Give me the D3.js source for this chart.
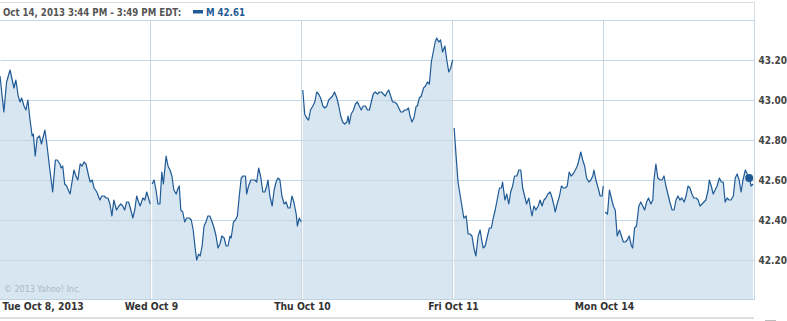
<!DOCTYPE html>
<html>
<head>
<meta charset="utf-8">
<title>M intraday, Oct 8 - Oct 14, 2013</title>
<script src="https://cdn.jsdelivr.net/npm/d3@7"></script>
<style>
  body { margin: 0; background: #fff; }
  text { font-family: "DejaVu Sans Condensed", "DejaVu Sans", sans-serif; font-weight: bold; font-stretch: condensed; }
</style>
</head>
<body>
<script>
// tick labels
var dayLabels = ["Tue Oct 8, 2013", "Wed Oct 9", "Thu Oct 10", "Fri Oct 11", "Mon Oct 14"];
var yTicks = [42.2, 42.4, 42.6, 42.8, 43.0, 43.2];

// [minutes after 9:30 open, price], one array per session
var day1 = [[0,43.12],[10,42.94],[17,43.09],[26,43.15],[36,43.06],[41,43.10],[47,43.02],[52,42.99],[56,43.01],[62,42.97],[67,42.95],[72,43.00],[77,42.91],[83,42.82],[86,42.83],[91,42.72],[96,42.81],[102,42.82],[107,42.78],[116,42.85],[121,42.78],[127,42.68],[136,42.54],[143,42.70],[148,42.70],[155,42.68],[158,42.66],[162,42.67],[167,42.58],[172,42.57],[181,42.53],[191,42.65],[196,42.62],[201,42.60],[207,42.68],[212,42.67],[217,42.69],[222,42.68],[229,42.62],[233,42.59],[238,42.60],[243,42.56],[250,42.54],[258,42.50],[263,42.52],[269,42.52],[274,42.51],[279,42.51],[284,42.48],[289,42.42],[294,42.50],[301,42.45],[307,42.47],[312,42.48],[317,42.47],[322,42.45],[327,42.49],[332,42.49],[338,42.45],[343,42.41],[348,42.45],[353,42.52],[358,42.49],[362,42.47],[369,42.51],[374,42.50],[379,42.54],[382,42.52],[388,42.48]];
var day2 = [[3,42.58],[8,42.60],[13,42.55],[18,42.48],[23,42.48],[28,42.64],[32,42.58],[39,42.72],[44,42.67],[49,42.65],[54,42.62],[59,42.55],[65,42.53],[70,42.56],[73,42.57],[77,42.45],[82,42.44],[87,42.39],[92,42.41],[99,42.41],[104,42.40],[109,42.35],[114,42.26],[118,42.20],[123,42.23],[127,42.22],[132,42.27],[137,42.37],[142,42.39],[147,42.42],[152,42.42],[158,42.39],[163,42.36],[168,42.32],[173,42.26],[178,42.28],[183,42.32],[189,42.31],[194,42.27],[199,42.27],[204,42.32],[207,42.31],[213,42.39],[218,42.40],[223,42.42],[228,42.52],[233,42.61],[238,42.62],[244,42.62],[247,42.53],[252,42.57],[258,42.60],[263,42.60],[268,42.60],[273,42.59],[278,42.66],[283,42.62],[289,42.54],[294,42.54],[299,42.57],[302,42.60],[307,42.52],[313,42.47],[318,42.55],[323,42.59],[328,42.61],[333,42.60],[338,42.52],[344,42.48],[349,42.49],[354,42.46],[359,42.46],[364,42.52],[369,42.49],[375,42.43],[378,42.37],[383,42.41],[388,42.39]];
var day3 = [[2,43.05],[7,42.93],[12,42.91],[17,42.90],[22,42.95],[28,42.97],[33,42.99],[38,43.04],[43,43.03],[48,43.01],[54,42.97],[59,42.96],[64,42.97],[69,43.00],[74,43.01],[79,43.02],[84,43.04],[90,43.01],[95,42.97],[100,42.92],[105,42.89],[110,42.88],[116,42.89],[119,42.92],[122,42.88],[127,42.93],[133,42.95],[138,42.98],[143,42.99],[148,42.97],[153,42.95],[158,42.97],[164,42.97],[169,42.95],[174,42.95],[179,42.99],[184,43.03],[189,43.04],[195,43.03],[200,43.04],[205,43.04],[210,43.03],[215,43.02],[220,43.04],[224,43.05],[229,43.02],[234,42.99],[239,42.99],[245,42.98],[250,42.96],[255,42.94],[260,42.94],[265,42.95],[270,42.95],[275,42.96],[279,42.92],[284,42.89],[289,42.91],[295,42.97],[298,42.97],[303,43.01],[308,43.02],[314,43.06],[319,43.07],[324,43.09],[329,43.08],[334,43.19],[339,43.24],[344,43.29],[348,43.31],[353,43.29],[358,43.30],[363,43.24],[369,43.27],[374,43.20],[379,43.14],[384,43.16],[389,43.20]];
var day4 = [[3,42.86],[8,42.72],[13,42.59],[18,42.53],[23,42.47],[28,42.41],[34,42.42],[39,42.33],[44,42.33],[49,42.32],[54,42.26],[59,42.22],[65,42.32],[70,42.35],[75,42.29],[78,42.26],[83,42.27],[89,42.32],[94,42.36],[99,42.36],[104,42.41],[109,42.45],[114,42.50],[120,42.56],[125,42.56],[128,42.59],[134,42.50],[139,42.53],[144,42.48],[149,42.54],[154,42.57],[159,42.62],[165,42.62],[170,42.65],[175,42.65],[180,42.56],[185,42.52],[190,42.48],[196,42.51],[201,42.45],[204,42.42],[209,42.47],[214,42.45],[220,42.47],[225,42.50],[230,42.47],[235,42.50],[240,42.51],[245,42.53],[251,42.54],[256,42.51],[261,42.47],[264,42.44],[269,42.48],[275,42.52],[280,42.57],[285,42.56],[290,42.56],[295,42.57],[300,42.64],[305,42.62],[310,42.63],[316,42.65],[321,42.67],[324,42.69],[330,42.74],[335,42.70],[340,42.67],[345,42.61],[351,42.59],[356,42.60],[361,42.62],[364,42.65],[369,42.60],[375,42.56],[380,42.52],[385,42.52],[388,42.57]];
var day5 = [[3,42.44],[9,42.43],[14,42.55],[19,42.51],[24,42.47],[29,42.45],[34,42.32],[40,42.35],[45,42.32],[50,42.29],[55,42.29],[60,42.30],[65,42.32],[71,42.27],[74,42.26],[79,42.36],[84,42.37],[90,42.47],[95,42.49],[100,42.47],[105,42.45],[110,42.49],[115,42.51],[121,42.48],[126,42.50],[129,42.60],[134,42.68],[139,42.61],[145,42.60],[150,42.60],[155,42.62],[160,42.57],[165,42.53],[170,42.49],[176,42.45],[181,42.45],[186,42.50],[191,42.52],[196,42.50],[201,42.51],[207,42.49],[212,42.52],[217,42.57],[222,42.56],[227,42.53],[232,42.51],[238,42.51],[243,42.50],[248,42.47],[253,42.48],[258,42.49],[263,42.50],[269,42.55],[272,42.60],[277,42.57],[282,42.53],[287,42.55],[292,42.57],[298,42.61],[303,42.59],[308,42.59],[313,42.49],[318,42.51],[323,42.50],[328,42.50],[334,42.52],[339,42.61],[344,42.63],[349,42.60],[354,42.54],[359,42.60],[365,42.65],[370,42.63],[375,42.61],[380,42.57],[385,42.58]];
var days = [day1, day2, day3, day4, day5];
var lastQuote = [375, 42.61]; // Oct 14 3:44 PM bar

var W = 787, H = 321;
var plotW = 755, plotTop = 20, plotBottom = 300;
var sessionLen = 390;

var svg = d3.select("body").append("svg").attr("width", W).attr("height", H);

var x = d3.scaleLinear().domain([0, sessionLen * 5]).range([0, plotW]);
var y = d3.scaleLinear().domain([42.0, 43.4]).range([plotBottom, plotTop]);

function px(d, i) { return x(i * sessionLen + d[0]); }

// fill, one area per session
var area = d3.area().y0(plotBottom).y1(function(d) { return y(d[1]); });
svg.append("g").selectAll("path").data(days).enter().append("path")
   .attr("d", function(day, i) { return area.x(function(d) { return px(d, i); })(day); })
   .attr("fill", "#d7e6f1");

// horizontal grid + right labels
var yAxis = svg.append("g").attr("transform", "translate(754.5,0)")
   .call(d3.axisRight(y).tickValues(yTicks).tickSize(-754).tickPadding(4).tickFormat(d3.format(".2f")));
yAxis.select(".domain").remove();
yAxis.selectAll("line").attr("stroke", "#c5d7e4");
yAxis.selectAll("text").attr("fill", "#444").attr("font-size", "10px").attr("dy", "0.36em");

// day separators
svg.append("g").selectAll("line").data([1, 2, 3, 4]).enter().append("line")
   .attr("x1", function(d) { return Math.round(x(d * sessionLen)) - 0.5; })
   .attr("x2", function(d) { return Math.round(x(d * sessionLen)) - 0.5; })
   .attr("y1", plotTop).attr("y2", plotBottom)
   .attr("stroke", "#c9d6df");

// frame
svg.append("line").attr("x1", 0).attr("x2", 754.5).attr("y1", 2.5).attr("y2", 2.5).attr("stroke", "#dcdcdc");
svg.append("line").attr("x1", 754.5).attr("x2", 754.5).attr("y1", 2).attr("y2", plotTop).attr("stroke", "#dcdcdc");
svg.append("line").attr("x1", 0).attr("x2", 754.5).attr("y1", plotTop + 0.5).attr("y2", plotTop + 0.5).attr("stroke", "#c5d7e4");
svg.append("line").attr("x1", 754.5).attr("x2", 754.5).attr("y1", plotTop).attr("y2", plotBottom).attr("stroke", "#c5d7e4");
svg.append("line").attr("x1", 0).attr("x2", 754.5).attr("y1", plotBottom - 0.5).attr("y2", plotBottom - 0.5).attr("stroke", "#bcd3e3");

// price line
var line = d3.line().y(function(d) { return y(d[1]); });
svg.append("g").selectAll("path").data(days).enter().append("path")
   .attr("d", function(day, i) { return line.x(function(d) { return px(d, i); })(day); })
   .attr("fill", "none").attr("stroke", "#1f5a96").attr("stroke-width", 1.2).attr("stroke-linejoin", "round");

svg.append("circle").attr("cx", x(4 * sessionLen + lastQuote[0])).attr("cy", y(lastQuote[1]))
   .attr("r", 4).attr("fill", "#1f5a96");

// x axis labels
var xAxis = svg.append("g").attr("transform", "translate(0," + plotBottom + ")")
   .call(d3.axisBottom(x).tickValues([0, 1, 2, 3, 4].map(function(d) { return d * sessionLen; }))
          .tickSize(0).tickPadding(2.5).tickFormat(function(d, i) { return dayLabels[i]; }));
xAxis.select(".domain").remove();
xAxis.selectAll("text").attr("fill", "#333").attr("font-size", "10.3px");
xAxis.select(".tick text").attr("text-anchor", "start").attr("x", 2);

svg.append("text").attr("x", 4).attr("y", 292).attr("font-size", "8.9px")
   .style("font-weight", "normal").style("font-family", "DejaVu Sans").attr("fill", "#aab8c6")
   .text("\u00a9 2013 Yahoo! Inc.");

// bottom strip
svg.append("rect").attr("x", 0).attr("y", 317).attr("width", 754).attr("height", 2).attr("fill", "#dedede");
svg.append("rect").attr("x", 765).attr("y", 320).attr("width", 11).attr("height", 1).attr("fill", "#bbbbbb");

// header
svg.append("text").attr("x", 3).attr("y", 16).attr("font-size", "9.6px").attr("fill", "#555")
   .text("Oct 14, 2013 3:44 PM - 3:49 PM EDT:");
svg.append("rect").attr("x", 193).attr("y", 10).attr("width", 10).attr("height", 3.5).attr("fill", "#1f5a96");
svg.append("text").attr("x", 206).attr("y", 16).attr("font-size", "9.6px").attr("fill", "#1f5a96")
   .text("M " + lastQuote[1].toFixed(2));
</script>
</body>
</html>
